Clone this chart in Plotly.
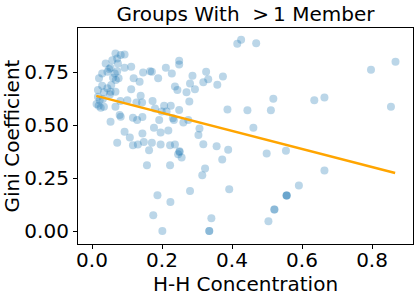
import plotly.graph_objects as go

# H-H concentration (x) and Gini coefficient (y) for each group
hh_conc = [
    0.067, 0.093, 0.082, 0.039, 0.058, 0.072, 0.074, 0.053, 0.049, 0.044,
    0.029, 0.020, 0.065, 0.072, 0.093, 0.112, 0.060, 0.076, 0.068, 0.119,
    0.136, 0.146, 0.029, 0.055, 0.044, 0.017, 0.034, 0.053, 0.067, 0.112,
    0.139, 0.017, 0.022, 0.031, 0.051, 0.081, 0.101, 0.127, 0.143, 0.013,
    0.025, 0.034, 0.067, 0.019, 0.079, 0.082, 0.117, 0.129, 0.144, 0.053,
    0.093, 0.108, 0.144, 0.072, 0.117, 0.131, 0.148, 0.157, 0.163,
    0.249, 0.249, 0.166, 0.171, 0.211, 0.228, 0.189, 0.287, 0.326, 0.280,
    0.318, 0.332, 0.237, 0.244, 0.270, 0.294, 0.278, 0.173, 0.180, 0.206,
    0.225, 0.199, 0.213, 0.249, 0.192, 0.231, 0.234, 0.261, 0.275, 0.177,
    0.196, 0.218, 0.307, 0.304, 0.171, 0.196, 0.223, 0.237, 0.318,
    0.250, 0.250, 0.246, 0.256, 0.223, 0.323, 0.315, 0.280, 0.187, 0.224,
    0.175, 0.201, 0.335, 0.335, 0.341,
    0.415, 0.426, 0.469, 0.374, 0.358, 0.518, 0.387, 0.444, 0.511, 0.461,
    0.356, 0.389, 0.372, 0.499, 0.554, 0.392, 0.556, 0.556, 0.556,
    0.521, 0.521, 0.504, 0.635, 0.664, 0.797, 0.867, 0.854, 0.664, 0.591,
]
gini = [
    0.840, 0.835, 0.832, 0.792, 0.808, 0.816, 0.792, 0.772, 0.766, 0.753,
    0.745, 0.722, 0.745, 0.756, 0.772, 0.777, 0.725, 0.722, 0.714, 0.722,
    0.706, 0.750, 0.687, 0.690, 0.675, 0.667, 0.656, 0.659, 0.659, 0.670,
    0.640, 0.635, 0.619, 0.624, 0.646, 0.615, 0.619, 0.608, 0.608, 0.601,
    0.583, 0.588, 0.588, 0.593, 0.549, 0.541, 0.536, 0.525, 0.539, 0.517,
    0.470, 0.442, 0.461, 0.418, 0.406, 0.409, 0.421, 0.311, 0.382,
    0.805, 0.788, 0.756, 0.753, 0.772, 0.745, 0.722, 0.734, 0.753, 0.698,
    0.703, 0.718, 0.683, 0.667, 0.656, 0.670, 0.612, 0.615, 0.580, 0.593,
    0.593, 0.565, 0.565, 0.572, 0.525, 0.533, 0.525, 0.513, 0.525, 0.489,
    0.466, 0.476, 0.485, 0.454, 0.418, 0.409, 0.406, 0.409, 0.410,
    0.377, 0.374, 0.363, 0.348, 0.311, 0.296, 0.264, 0.189, 0.170, 0.137,
    0.075, 0.000, 0.000, 0.000, 0.061,
    0.885, 0.904, 0.888, 0.731, 0.692, 0.626, 0.575, 0.571, 0.571, 0.489,
    0.401, 0.385, 0.338, 0.367, 0.380, 0.198, 0.168, 0.168, 0.168,
    0.102, 0.102, 0.047, 0.618, 0.631, 0.763, 0.800, 0.588, 0.286, 0.216,
]

# Fitted regression line endpoints
fit_x = [0.0123, 0.866]
fit_y = [0.639, 0.275]

x_ticks = [0.0, 0.2, 0.4, 0.6, 0.8]
x_tick_labels = ["0.0", "0.2", "0.4", "0.6", "0.8"]
y_ticks = [0.0, 0.25, 0.5, 0.75]
y_tick_labels = ["0.00", "0.25", "0.50", "0.75"]

FONT = "DejaVu Sans"

fig = go.Figure()
fig.add_trace(go.Scatter(
    x=hh_conc, y=gini, mode="markers",
    marker=dict(color="#1f77b4", opacity=0.3, size=8, line=dict(width=0)),
    showlegend=False, hoverinfo="skip",
))
fig.add_trace(go.Scatter(
    x=fit_x, y=fit_y, mode="lines",
    line=dict(color="orange", width=2.5),
    showlegend=False, hoverinfo="skip",
))

axis_common = dict(
    showgrid=False, zeroline=False, showline=True, mirror=True,
    linecolor="black", linewidth=1.2, ticks="outside", ticklen=4,
    tickwidth=1.2, tickcolor="black", automargin=False,
    tickfont=dict(family=FONT, size=20, color="black"),
)

fig.update_layout(
    width=416, height=296,
    margin=dict(l=78, r=3, t=28, b=52),
    paper_bgcolor="white", plot_bgcolor="white",
    title=dict(
        text="Groups With\u00a0\u00a0>\u20091 Member",
        font=dict(family=FONT, size=20, color="black"),
        x=0.5, xref="paper", xanchor="center",
        y=0.952, yref="container", yanchor="middle", automargin=False,
    ),
    xaxis=dict(
        range=[-0.04, 0.917], tickvals=x_ticks, ticktext=x_tick_labels,
        ticklabelstandoff=-6,
        title=dict(text="H-H Concentration",
                   font=dict(family=FONT, size=20, color="black"), standoff=0),
        **axis_common,
    ),
    yaxis=dict(
        range=[-0.061, 0.96], tickvals=y_ticks, ticktext=y_tick_labels,
        title=dict(text="Gini Coefficient",
                   font=dict(family=FONT, size=20, color="black"), standoff=2),
        **axis_common,
    ),
)

fig.write_html(
    "out.html",
    config={"displayModeBar": False},
    post_script="document.body.style.margin='0';document.body.style.padding='0';",
)
